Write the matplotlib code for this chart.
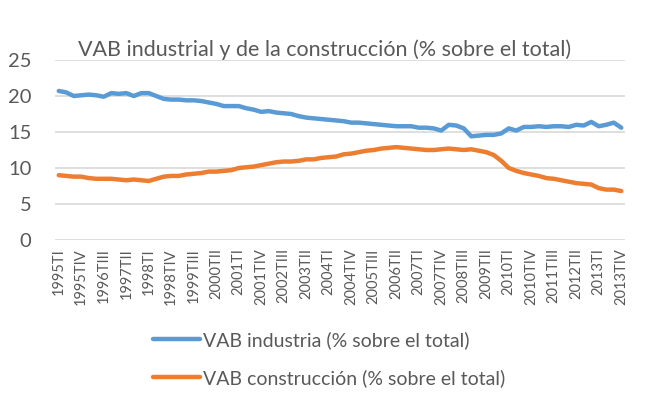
import matplotlib
matplotlib.use("Agg")
import matplotlib.pyplot as plt
import numpy as np

plt.rcParams['font.family'] = ['Lato', 'DejaVu Sans']

years = list(range(1995, 2014))
quarters = ["TI", "TII", "TIII", "TIV"]
categories = ["{}{}".format(y, q) for y in years for q in quarters]

industria = [20.7, 20.5, 20.0, 20.1, 20.2, 20.1, 19.9, 20.4, 20.3, 20.4,
             20.0, 20.4, 20.4, 20.0, 19.6, 19.5, 19.5, 19.4, 19.4, 19.3,
             19.1, 18.9, 18.6, 18.6, 18.6, 18.3, 18.1, 17.8, 17.9, 17.7,
             17.6, 17.5, 17.2, 17.0, 16.9, 16.8, 16.7, 16.6, 16.5, 16.3,
             16.3, 16.2, 16.1, 16.0, 15.9, 15.8, 15.8, 15.8, 15.6, 15.6,
             15.5, 15.2, 16.0, 15.9, 15.5, 14.4, 14.5, 14.6, 14.6, 14.8,
             15.5, 15.2, 15.7, 15.7, 15.8, 15.7, 15.8, 15.8, 15.7, 16.0,
             15.9, 16.4, 15.8, 16.0, 16.3, 15.6]

construccion = [9.0, 8.9, 8.8, 8.8, 8.6, 8.5, 8.5, 8.5, 8.4, 8.3,
                8.4, 8.3, 8.2, 8.5, 8.8, 8.9, 8.9, 9.1, 9.2, 9.3,
                9.5, 9.5, 9.6, 9.7, 10.0, 10.1, 10.2, 10.4, 10.6, 10.8,
                10.9, 10.9, 11.0, 11.2, 11.2, 11.4, 11.5, 11.6, 11.9, 12.0,
                12.2, 12.4, 12.5, 12.7, 12.8, 12.9, 12.8, 12.7, 12.6, 12.5,
                12.5, 12.6, 12.7, 12.6, 12.5, 12.6, 12.4, 12.2, 11.8, 11.0,
                10.0, 9.6, 9.3, 9.1, 8.9, 8.6, 8.5, 8.3, 8.1, 7.9,
                7.8, 7.7, 7.2, 7.0, 7.0, 6.8]

gray = "#595959"

fig = plt.figure(figsize=(6.56, 3.98), dpi=100)
ax = fig.add_axes([55 / 656, 1 - 240 / 398, 570 / 656, 180 / 398])

x = np.arange(len(categories))
ax.plot(x, industria, color="#5B9BD5", lw=3.2, label="VAB industria (% sobre el total)",
        solid_capstyle="round", solid_joinstyle="round")
ax.plot(x, construccion, color="#ED7D31", lw=3.2, label="VAB construcción (% sobre el total)",
        solid_capstyle="round", solid_joinstyle="round")

ax.set_xlim(-0.5, len(categories) - 0.5)
ax.set_ylim(0, 25)
ax.set_yticks([0, 5, 10, 15, 20, 25])
ax.set_xticks(x[::3])
ax.set_xticklabels(categories[::3], rotation=90, fontsize=10.5, color=gray)
ax.tick_params(axis="y", labelsize=14.5, colors=gray, length=0, pad=17)
ax.tick_params(axis="x", length=0, pad=6)
ax.grid(axis="y", color="#D9D9D9", lw=1.2)
ax.set_axisbelow(True)
for s in ax.spines.values():
    s.set_visible(False)

fig.text(325 / 656, 1 - 50 / 398, "VAB industrial y de la construcción (% sobre el total)",
         ha="center", va="center", fontsize=15.5, color=gray)

fig.legend(loc="upper left", bbox_to_anchor=(153 / 656, 1 - 331 / 398), frameon=False,
           fontsize=14, handlelength=2.4, handletextpad=0.15, labelspacing=1.05,
           borderpad=0, borderaxespad=0, labelcolor=gray)

plt.savefig("out.png", dpi=100)
